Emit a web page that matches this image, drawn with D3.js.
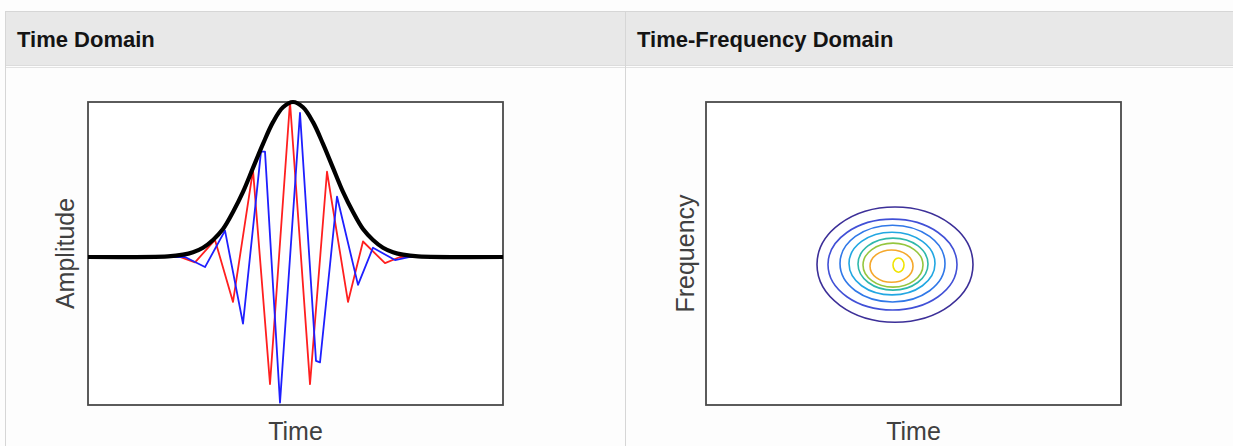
<!DOCTYPE html>
<html><head><meta charset="utf-8">
<script src="https://cdn.jsdelivr.net/npm/d3@7"></script>
<style>
body{margin:0;background:#fff;}
svg{display:block;font-family:"Liberation Sans",Arial,sans-serif;}
</style>
</head><body>
<svg id="chart" width="1233" height="446"></svg>
<script>
// ---------- DATA ----------
const panelTitles = ["Time Domain", "Time-Frequency Domain"];
const axisLabels = {left: ["Time", "Amplitude"], right: ["Time", "Frequency"]};

// time in samples, amplitude normalised to envelope peak
const realPart = [[0,0],[18.4,0],[21.4,-0.035],[25.4,0.11],[29,-0.29],[33,0.56],[36.4,-0.82],[40.4,1.0],[44.4,-0.82],[47.8,0.55],[52,-0.29],[55,0.10],[59.4,-0.04],[62.4,0],[83,0]];
const imagPart = [[0,0],[19.4,0],[23.4,-0.065],[27.4,0.17],[31,-0.43],[34.6,0.68],[35.4,0.68],[38.4,-0.94],[42.4,0.93],[45.6,-0.67],[46.4,-0.68],[49.8,0.39],[54,-0.18],[57,0.06],[61.4,-0.02],[64.4,0],[83,0]];
const envelope = [[0,0],[16,0.004],[19,0.015],[21,0.031],[23,0.06],[25,0.11],[27,0.18],[29,0.29],[31,0.42],[33,0.575],[35,0.73],[37,0.87],[39,0.966],[41,1.0],[43,0.966],[45,0.87],[47,0.73],[49,0.575],[51,0.42],[53,0.29],[55,0.18],[57,0.11],[59,0.06],[61,0.031],[63,0.015],[66,0.004],[83,0]];

// contour levels (outer -> inner): centre and half-extent in time / frequency units
const contourLevels = [1,2,3,4,5,6,7,8];
const contourColors = ["#3c2f98","#4150d6","#3078e8","#22a7e2","#2fb8ab","#95c63e","#f5a82c","#f0e400"];
const contourCenterT = [37.8,37.3,37.3,37.2,37.4,37.4,37.1,38.5];
const contourCenterF = [27.8,27.8,28.0,28.0,27.9,27.7,27.5,27.7];
const contourHalfT   = [15.6,12.9,10.5,8.6,7.0,6.0,4.3,1.1];
const contourHalfF   = [11.4,9.0,7.6,6.2,5.15,4.35,3.2,1.4];

// ---------- DRAWING ----------
const svg = d3.select("#chart");
const W = 1233, H = 446;
svg.append("rect").attr("width",W).attr("height",H).attr("fill","#fdfdfd");

// table header
const colX = [5, 625];
svg.append("rect").attr("x",5).attr("y",11).attr("width",W-5).attr("height",54)
  .attr("fill","#e8e8e8");
svg.append("line").attr("x1",5).attr("x2",W).attr("y1",11.5).attr("y2",11.5).attr("stroke","#d6d6d6");
svg.append("line").attr("x1",5).attr("x2",W).attr("y1",65.5).attr("y2",65.5).attr("stroke","#dcdcdc");
svg.append("line").attr("x1",5).attr("x2",W).attr("y1",67.5).attr("y2",67.5).attr("stroke","#e2e2e2");
colX.forEach(x => {
  svg.append("line").attr("x1",x+0.5).attr("x2",x+0.5).attr("y1",11).attr("y2",H).attr("stroke","#d6d6d6");
});
svg.selectAll("text.hdr").data(panelTitles).join("text").attr("class","hdr")
  .attr("x",(d,i)=>colX[i]+12).attr("y",47)
  .attr("font-size",22).attr("font-weight","bold").attr("fill","#141414")
  .text(d=>d);

// left panel
const xL = d3.scaleLinear().domain([0,83]).range([88,503]);
const yL = d3.scaleLinear().domain([-0.955,1.0]).range([405,102]);
const gL = svg.append("g");
gL.append("rect").attr("x",xL(0)).attr("y",yL(1)).attr("width",xL(83)-xL(0)).attr("height",yL(-0.955)-yL(1))
  .attr("fill","#fff").attr("stroke","#4a4a4a").attr("stroke-width",1.8);
const lineL = d3.line().x(d=>xL(d[0])).y(d=>yL(d[1]));
gL.append("path").datum(realPart).attr("d",lineL).attr("fill","none").attr("stroke","#ff1f1f").attr("stroke-width",1.8).attr("stroke-linejoin","round");
gL.append("path").datum(imagPart).attr("d",lineL).attr("fill","none").attr("stroke","#1f1fff").attr("stroke-width",1.8).attr("stroke-linejoin","round");
const envLine = d3.line().x(d=>xL(d[0])).y(d=>yL(d[1])).curve(d3.curveCatmullRom);
gL.append("path").datum(envelope).attr("d",envLine).attr("fill","none").attr("stroke","#000").attr("stroke-width",4.2);
gL.append("text").attr("x",(xL.range()[0]+xL.range()[1])/2).attr("y",440).attr("text-anchor","middle")
  .attr("font-size",25).attr("fill","#404040").text(axisLabels.left[0]);
gL.append("text").attr("transform",`translate(74,${(yL.range()[0]+yL.range()[1])/2}) rotate(-90)`).attr("text-anchor","middle")
  .attr("font-size",25).attr("fill","#404040").text(axisLabels.left[1]);

// right panel
const xR = d3.scaleLinear().domain([0,83]).range([706,1121]);
const yR = d3.scaleLinear().domain([0,60]).range([405,102]);
const gR = svg.append("g");
gR.append("rect").attr("x",xR(0)).attr("y",yR(60)).attr("width",xR(83)-xR(0)).attr("height",yR(0)-yR(60))
  .attr("fill","#fff").attr("stroke","#4a4a4a").attr("stroke-width",1.8);
gR.selectAll("ellipse").data(contourLevels).join("ellipse")
  .attr("cx",(d,i)=>xR(contourCenterT[i])).attr("cy",(d,i)=>yR(contourCenterF[i]))
  .attr("rx",(d,i)=>xR(contourHalfT[i])-xR(0)).attr("ry",(d,i)=>yR(0)-yR(contourHalfF[i]))
  .attr("fill","none").attr("stroke",(d,i)=>contourColors[i]).attr("stroke-width",1.6);
gR.append("text").attr("x",(xR.range()[0]+xR.range()[1])/2).attr("y",440).attr("text-anchor","middle")
  .attr("font-size",25).attr("fill","#404040").text(axisLabels.right[0]);
gR.append("text").attr("transform",`translate(694,${(yR.range()[0]+yR.range()[1])/2}) rotate(-90)`).attr("text-anchor","middle")
  .attr("font-size",25).attr("fill","#404040").text(axisLabels.right[1]);
</script>
</body></html>
